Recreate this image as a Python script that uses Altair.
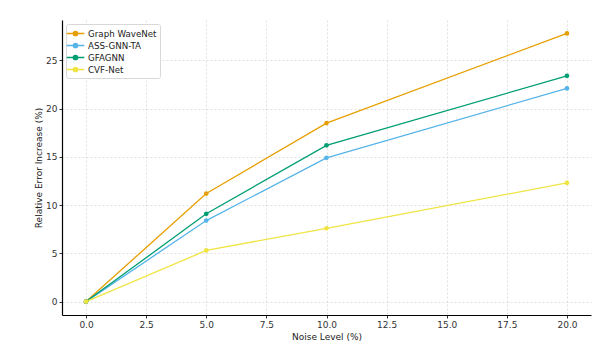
import altair as alt
import pandas as pd

noise = [0, 5, 10, 20]
models = ["Graph WaveNet", "ASS-GNN-TA", "GFAGNN", "CVF-Net"]
graph_wavenet = [0.0, 11.2, 18.5, 27.8]
ass_gnn_ta = [0.0, 8.4, 14.9, 22.1]
gfagnn = [0.0, 9.1, 16.2, 23.4]
cvf_net = [0.0, 5.3, 7.6, 12.3]
colors = ["#E69F00", "#56B4E9", "#009E73", "#F0E442"]

rows = []
for name, vals in zip(models, [graph_wavenet, ass_gnn_ta, gfagnn, cvf_net]):
    for x, v in zip(noise, vals):
        rows.append({"Noise": x, "Value": v, "Model": name})
df = pd.DataFrame(rows)

font = "DejaVu Sans"
color = alt.Color(
    "Model:N",
    scale=alt.Scale(domain=models, range=colors),
    sort=models,
    legend=alt.Legend(
        title=None,
        orient="none",
        legendX=4,
        legendY=4,
        fillColor="white",
        strokeColor="#d8d8d8",
        padding=3,
        cornerRadius=2,
        labelFont=font,
        labelFontSize=8.7,
        labelColor="#222222",
        labelLimit=300,
        symbolType="M-1.6,0L1.6,0M-0.4,0A0.4,0.4 0 1 1 0.4,0A0.4,0.4 0 1 1 -0.4,0",
        symbolSize=121,
        symbolStrokeWidth=1.3,
        rowPadding=0,
        labelOffset=6,
    ),
)

x = alt.X(
    "Noise:Q",
    scale=alt.Scale(domain=[-1, 21], nice=False, zero=False),
    axis=alt.Axis(
        title="Noise Level (%)",
        values=[0, 2.5, 5, 7.5, 10, 12.5, 15, 17.5, 20],
        format=".1f",
    ),
)
y = alt.Y(
    "Value:Q",
    scale=alt.Scale(domain=[-1.39, 29.19], nice=False, zero=False),
    axis=alt.Axis(title="Relative Error Increase (%)", values=[0, 5, 10, 15, 20, 25]),
)

base = alt.Chart(df)
lines = base.mark_line(strokeWidth=1.3).encode(x=x, y=y, color=color)
points = base.mark_circle(size=22, opacity=1).encode(
    x=x, y=y, color=alt.Color("Model:N", scale=alt.Scale(domain=models, range=colors), legend=None)
)

chart = (
    alt.layer(lines, points)
    .properties(
        width=529,
        height=295,
        autosize=alt.AutoSizeParams(type="none"),
        padding={"left": 54, "top": 12, "right": 17, "bottom": 30},
        background="white",
    )
    .configure_view(stroke=None)
    .configure_axis(
        labelFont=font,
        titleFont=font,
        labelFontSize=9,
        titleFontSize=9,
        labelColor="#333333",
        titleColor="#222222",
        titleFontWeight="normal",
        grid=True,
        gridColor="#cccccc",
        gridDash=[2, 2],
        gridWidth=0.6,
        domainColor="#000000",
        domainWidth=1.2,
        tickColor="#333333",
        tickSize=3,
        labelPadding=2,
    )
    .configure_axisX(titlePadding=3)
    .configure_axisY(titlePadding=2)
)

chart.save("out.html", embed_options={"renderer": "svg", "actions": False})
